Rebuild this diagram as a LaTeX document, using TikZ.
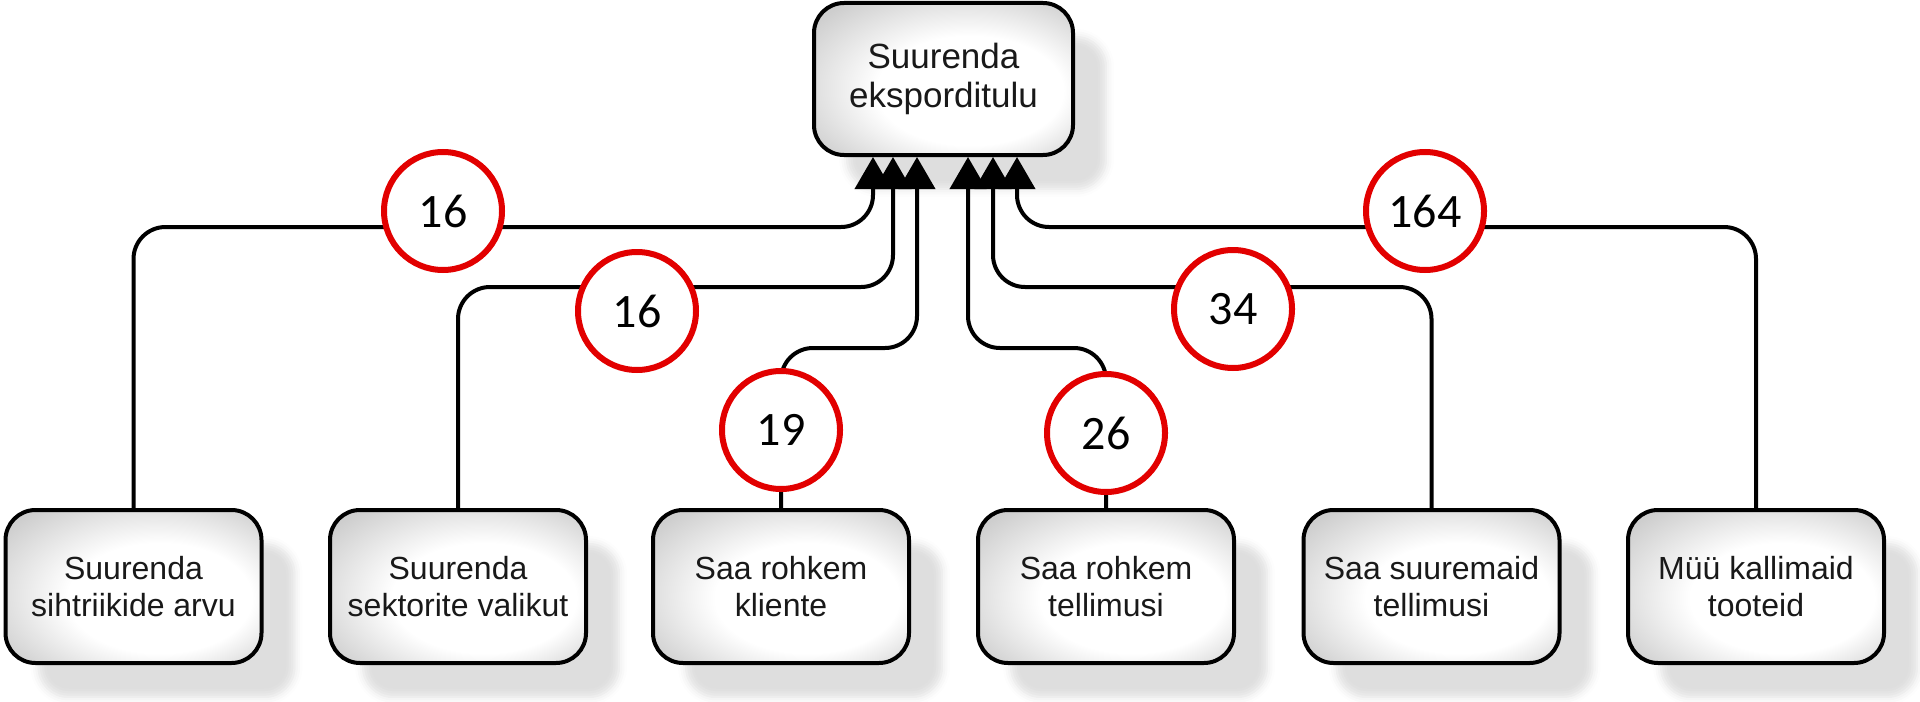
\documentclass[tikz,border=0pt]{standalone}
\usepackage{fontspec}
\setmainfont{Liberation Sans}
\newfontfamily\numfont{Carlito}
\usetikzlibrary{arrows.meta,shadows.blur,calc}
\definecolor{ringred}{RGB}{226,0,0}
\pgfdeclareradialshading{boxshade}{\pgfpoint{8bp}{-6bp}}{color(0bp)=(white); color(18bp)=(white); color(34bp)=(black!19); color(50bp)=(black!28)}
\begin{document}
\begin{tikzpicture}[x=0.5pt,y=-0.5pt,
  box/.style={draw=black, line width=2pt, rounded corners=15pt, shade, shading=boxshade,
    minimum width=128pt, minimum height=76.5pt, align=center, inner sep=2pt,
    font=\fontsize{16}{18.5}\selectfont, text=black!90,
    blur shadow={shadow xshift=16.5pt, shadow yshift=-17pt, shadow opacity=13, shadow blur radius=4pt}},
  topbox/.style={box, minimum width=129.5pt, minimum height=76pt, font=\fontsize{17.5}{19.5}\selectfont},
  conn/.style={draw=black, line width=2pt, rounded corners=16pt},
  tip/.style={-{Triangle[width=18pt,length=16pt]}},
  num/.style={circle, draw=ringred, line width=3pt, fill=white, minimum size=59pt, inner sep=0pt,
    font=\numfont\fontsize{24}{28}\selectfont, text=black}
]
\useasboundingbox (0,0) rectangle (1920,701);

\node[topbox] (top) at (943.5,79) {Suurenda\\eksporditulu};

\node[box] (b1) at (133.5,586.5) {Suurenda\\sihtriikide arvu};
\node[box] (b2) at (458,586.5) {Suurenda\\sektorite valikut};
\node[box] (b3) at (781,586.5) {Saa rohkem\\kliente};
\node[box] (b4) at (1106,586.5) {Saa rohkem\\tellimusi};
\node[box] (b5) at (1431.5,586.5) {Saa suuremaid\\tellimusi};
\node[box] (b6) at (1756,586.5) {Müü kallimaid\\tooteid};

\draw[conn,tip] (b1.north) |- (873,227) -- ([xshift=-35.25pt]top.south);
\draw[conn,tip] (b2.north) |- (893,287) -- ([xshift=-25.25pt]top.south);
\draw[conn,tip] (b3.north) |- (917,348) -- ([xshift=-13.25pt]top.south);
\draw[conn,tip] (b4.north) |- (968,348) -- ([xshift=12.25pt]top.south);
\draw[conn,tip] (b5.north) |- (993,287) -- ([xshift=24.75pt]top.south);
\draw[conn,tip] (b6.north) |- (1017,227) -- ([xshift=36.75pt]top.south);

\node[num] (c1) at (443,211) {16};
\node[num] (c2) at (637,311) {16};
\node[num] (c3) at (781,430) {19};
\node[num] (c4) at (1106,433) {26};
\node[num] (c5) at (1233,309) {34};
\node[num] (c6) at (1425,211) {164};
\end{tikzpicture}
\end{document}
